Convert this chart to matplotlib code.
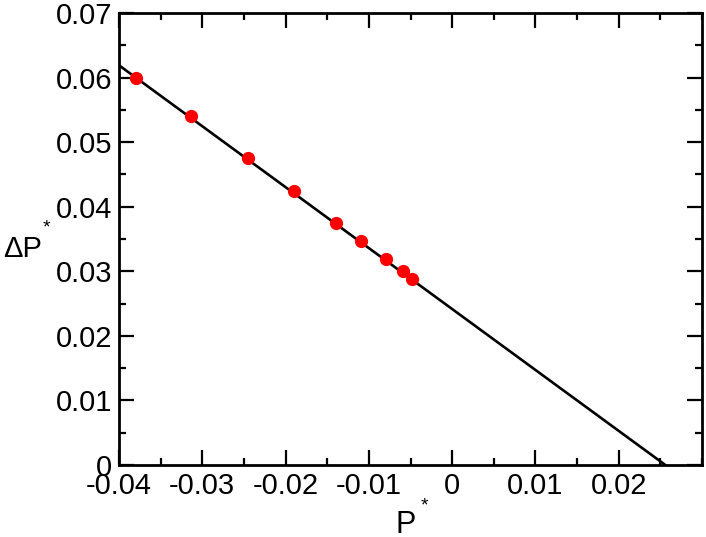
import matplotlib
matplotlib.use("Agg")
import matplotlib.pyplot as plt
from matplotlib.ticker import MultipleLocator

plt.rcParams['font.family'] = ['Liberation Sans', 'DejaVu Sans']

# points
P = [-0.0380, -0.0314, -0.0245, -0.0190, -0.0139, -0.0109, -0.0079, -0.0059, -0.0048]
dP = [0.0600, 0.0541, 0.0475, 0.0424, 0.0375, 0.0347, 0.0319, 0.0300, 0.0288]

# straight line end points
line_x = [-0.0400, 0.0256]
line_y = [0.0619, 0.0]

x_ticks = [-0.04, -0.03, -0.02, -0.01, 0, 0.01, 0.02]
x_labels = ['-0.04', '-0.03', '-0.02', '-0.01', '0', '0.01', '0.02']
y_ticks = [0, 0.01, 0.02, 0.03, 0.04, 0.05, 0.06, 0.07]
y_labels = ['0', '0.01', '0.02', '0.03', '0.04', '0.05', '0.06', '0.07']

W, H = 706, 537
fig = plt.figure(figsize=(W/100, H/100), dpi=100)
# axes box: x 119..702 px, y 13..465 px
ax = fig.add_axes([119/W, 1-465/H, (702-119)/W, (465-13)/H])

ax.plot(line_x, line_y, color='black', lw=1.9, zorder=2)
ax.plot(P, dP, 'o', color='red', ms=8.5, mec='red', zorder=3)

ax.set_xlim(-0.04, 0.03)
ax.set_ylim(0, 0.07)
ax.set_xticks(x_ticks)
ax.set_xticklabels(x_labels)
ax.set_yticks(y_ticks)
ax.set_yticklabels(y_labels)
ax.xaxis.set_minor_locator(MultipleLocator(0.005))
ax.yaxis.set_minor_locator(MultipleLocator(0.005))

ax.tick_params(which='both', direction='in', top=True, right=True, labelsize=21, width=1.6)
ax.tick_params(which='major', length=11)
ax.tick_params(axis='x', which='major', pad=5)
ax.tick_params(axis='y', which='major', pad=5)
ax.tick_params(which='minor', length=5)
for s in ax.spines.values():
    s.set_linewidth(2)

# axis titles, with a small raised asterisk
fig.text(406/W, 1-533/H, 'P', fontsize=22, ha='center', va='baseline')
fig.text(424/W, 1-506/H, '*', fontsize=14, ha='center', va='center')
fig.text(23/W, 1-257/H, '\u0394P', fontsize=21, ha='center', va='baseline')
fig.text(46/W, 1-228/H, '*', fontsize=14, ha='center', va='center')

fig.savefig('out.png', dpi=100)
